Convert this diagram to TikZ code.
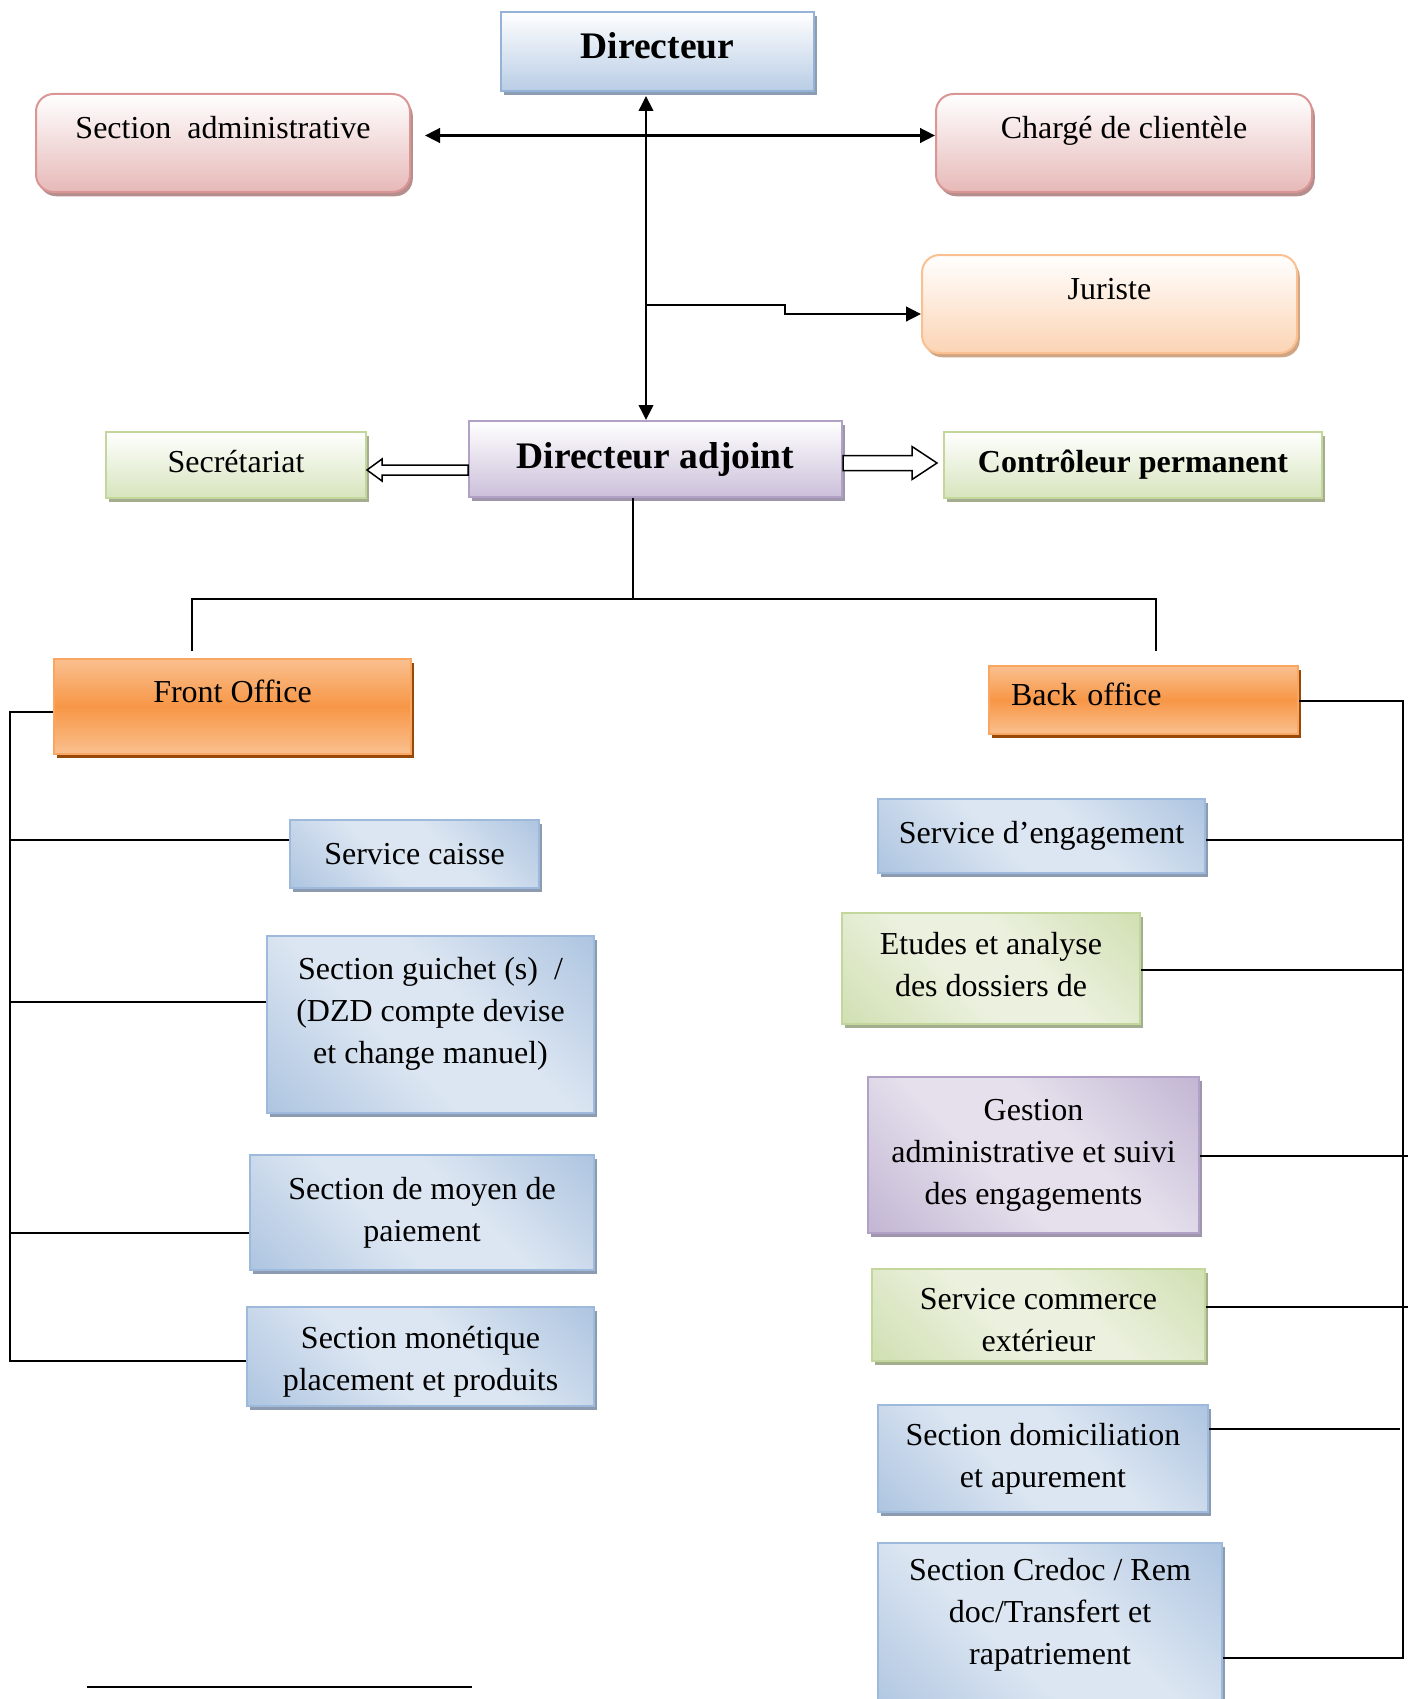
\documentclass[tikz,border=0pt]{standalone}
\usepackage{fontspec}
\setmainfont{Liberation Serif}
\usetikzlibrary{arrows.meta,shadows,calc}

% box palettes: border (B), fill (F), light fill (L), dark fill (D), shadow (S)
\definecolor{dirB}{HTML}{95B3D7}
\definecolor{dirF}{HTML}{B9CDE5}
\definecolor{dirS}{HTML}{8C9CB3}
\definecolor{redB}{HTML}{D99694}
\definecolor{redF}{HTML}{E6B9B8}
\definecolor{redS}{HTML}{B58E8D}
\definecolor{orgB}{HTML}{FAC090}
\definecolor{orgF}{HTML}{FBD4B4}
\definecolor{orgS}{HTML}{CFA583}
\definecolor{purB}{HTML}{B2A1C7}
\definecolor{purF}{HTML}{CCC0DA}
\definecolor{purD}{HTML}{B09FC6}
\definecolor{purL}{HTML}{E5E0EC}
\definecolor{purS}{HTML}{A096AC}
\definecolor{grnB}{HTML}{C3D69B}
\definecolor{grnF}{HTML}{D7E4BD}
\definecolor{grnD}{HTML}{C3D69B}
\definecolor{grnL}{HTML}{EBF1DE}
\definecolor{grnS}{HTML}{A4AE8E}
\definecolor{ofM}{HTML}{F79646}
\definecolor{ofL}{HTML}{FAC08F}
\definecolor{ofS}{HTML}{984807}
\definecolor{bluB}{HTML}{9DB9DB}
\definecolor{bluD}{HTML}{95B3D7}
\definecolor{bluL}{HTML}{DCE6F2}
\definecolor{bluS}{HTML}{8D9BB0}

% diagonal fills: dark in two opposite corners, light band between
\pgfdeclarehorizontalshading{bluediag}{100bp}{color(0bp)=(bluD); color(42bp)=(bluL); color(58bp)=(bluL); color(100bp)=(bluD)}
\pgfdeclarehorizontalshading{greendiag}{100bp}{color(0bp)=(grnD); color(42bp)=(grnL); color(58bp)=(grnL); color(100bp)=(grnD)}
\pgfdeclarehorizontalshading{purplediag}{100bp}{color(0bp)=(purD); color(42bp)=(purL); color(58bp)=(purL); color(100bp)=(purD)}

\newcommand\bodyfont{\fontsize{12.8}{16.8}\selectfont}
\newcommand\headfont{\fontsize{15}{18}\selectfont\bfseries}

\begin{document}
\begin{tikzpicture}[x=0.4pt,y=-0.4pt,
  >={Triangle[length=6pt,width=5.8pt]},
  box/.style={draw, line width=0.8pt, inner sep=2pt, align=center, font=\bodyfont},
  sz/.style 2 args={minimum width=#1*0.4pt, minimum height=#2*0.4pt},
  drop/.style={general shadow={fill=#1, draw=none, shadow xshift=1.1pt, shadow yshift=-1.7pt}},
  vshade/.style n args={3}{box, draw=#1, top color=white, bottom color=#2, drop=#3},
  diag/.style n args={3}{box, draw=#1, shade, shading=#2, shading angle=45, drop=#3},
  bluebox/.style={diag={bluB}{bluediag}{bluS}},
  greenbox/.style={diag={grnB}{greendiag}{grnS}},
  purplebox/.style={diag={purB}{purplediag}{purS}},
  officebox/.style={box, draw=ofM!85!white, top color=ofL, bottom color=ofL,
                    middle color=ofM, drop=ofS},
  txtlbl/.style={align=center, font=\bodyfont},
  conn/.style={line width=0.8pt},
  hollow/.style={draw, fill=white, line width=0.6pt}
]
\useasboundingbox (0,0) rectangle (1413,1699);

% ---- management level
\node[vshade={dirB}{dirF}{dirS}, sz={313}{79}, font=\headfont,
      text height=10pt, text depth=4pt] (dir) at (657.5,51.5) {Directeur};
\node[vshade={redB}{redF}{redS}, rounded corners=7pt, sz={374}{98},
      text height=9pt, text depth=12.2pt] (sa) at (223,143) {Section\ \ administrative};
\node[vshade={redB}{redF}{redS}, rounded corners=7pt, sz={376}{98},
      text height=9pt, text depth=12.2pt] (cc) at (1124,143) {Chargé de clientèle};
\node[vshade={orgB}{orgF}{orgS}, rounded corners=7pt, sz={375}{98},
      text height=9pt, text depth=13pt] (jur) at (1109.5,304) {Juriste};
\node[vshade={purB}{purF}{purS}, sz={373}{76}, font=\headfont] (da) at (655.5,459) {Directeur adjoint};
\node[vshade={grnB}{grnF}{grnS}, sz={260}{66},
      text height=9.5pt, text depth=3.9pt] (sec) at (236,465) {Secrétariat};
\node[vshade={grnB}{grnF}{grnS}, sz={378}{66}, font=\bodyfont\bfseries] (ctl) at (1133,465) {Contrôleur permanent};

% ---- front / back office
\node[officebox, sz={357}{95}, text height=9pt, text depth=12.6pt] (fo) at (232.5,706.5) {Front Office};
\node[officebox, minimum height=68*0.4pt, inner xsep=8.8pt, text width=106pt, align=left,
      text height=9pt, text depth=5pt] (bo) at (1143.5,700) {Back office};

% ---- front office services
\node[bluebox, sz={249}{68}] (sc) at (414.5,854) {Service caisse};
\node[bluebox, sz={327}{177},
      label={[txtlbl, name=sg-text, yshift=4.3pt]center:Section guichet (s)\ \ /\\(DZD compte devise\\et change manuel)}]
      (sg) at (430.5,1024.5) {};
\node[bluebox, sz={344}{115}] (sm) at (422,1212.5) {Section de moyen de\\paiement};
\node[bluebox, sz={347}{99},
      label={[txtlbl, name=smo-text, yshift=-2pt]center:Section monétique\\placement et produits}]
      (smo) at (420.5,1356.5) {};

% ---- back office services
\node[bluebox, sz={327}{74}] (se) at (1041.5,836) {Service d’engagement};
\node[greenbox, sz={298}{111},
      label={[txtlbl, name=ea-text, yshift=1.5pt]center:Etudes et analyse\\des dossiers de}]
      (ea) at (991,968.5) {};
\node[purplebox, sz={331}{156}] (ga) at (1033.5,1155) {Gestion\\administrative et suivi\\des engagements};
\node[greenbox, sz={333}{92},
      label={[txtlbl, name=sce-text, yshift=-2pt]center:Service commerce\\extérieur}]
      (sce) at (1038.5,1315) {};
\node[bluebox, sz={330}{107}] (sd) at (1043,1458.5) {Section domiciliation\\et apurement};
\node[bluebox, sz={344}{177},
      label={[txtlbl, name=scr-text, yshift=6.8pt]center:Section Credoc / Rem\\doc/Transfert et\\rapatriement}]
      (scr) at (1050,1631.5) {};

% ---- links between director, staff and deputy
\coordinate (vx) at (646,0);
\coordinate (hy) at (0,135.5);
\coordinate (jstep) at (785,305);
\coordinate (jin) at (785,314);
\draw[conn, <->] ($(dir.south -| vx)+(0,4)$) -- (da.north -| vx);
\draw[line width=1.1pt, <->] ($(sa.east |- hy)+(14,0)$) -- (cc.west |- hy);
\draw[line width=1.1pt, ->] (vx |- jstep) -- (jstep) -- (jin) -- (jur.west |- jin);

% hollow block arrows from the deputy
\draw[hollow] let \p1=(da.west), \p2=($(sec.east)+(0,5)$) in
  (\x1,\y2+2pt) -- (\x2+6pt,\y2+2pt) -- (\x2+6pt,\y2+4.4pt) -- (\p2)
  -- (\x2+6pt,\y2-4.4pt) -- (\x2+6pt,\y2-2pt) -- (\x1,\y2-2pt) -- cycle;
\draw[hollow] let \p1=(da.east), \p2=($(ctl.west)+(-6,-2)$) in
  (\x1,\y2+3pt) -- (\x2-10pt,\y2+3pt) -- (\x2-10pt,\y2+6.6pt) -- (\p2)
  -- (\x2-10pt,\y2-6.6pt) -- (\x2-10pt,\y2-3pt) -- (\x1,\y2-3pt) -- cycle;

% ---- split towards front and back office
\coordinate (trunk) at (633,599);
\coordinate (foend) at (192,651);
\coordinate (boend) at (1156,651);
\draw[conn] (da.south -| trunk) -- (trunk);
\draw[line width=1pt] (foend) -- (foend |- trunk) -- (boend |- trunk) -- (boend);

% ---- front office bus
\coordinate (lb0) at (10,712);
\coordinate (lb1) at (10,840);
\coordinate (lb2) at (10,1002);
\coordinate (lb3) at (10,1233);
\coordinate (lb4) at (10,1361);
\draw[conn] (fo.west |- lb0) -- (lb0) -- (lb4) -- (smo.west |- lb4);
\draw[conn] (lb1) -- (sc.west |- lb1);
\draw[conn] (lb2) -- (sg.west |- lb2);
\draw[conn] (lb3) -- (sm.west |- lb3);

% ---- back office bus
\coordinate (rb0) at (1403,701);
\coordinate (rb1) at (1403,840);
\coordinate (rb2) at (1403,970);
\coordinate (rb3) at (1403,1156);
\coordinate (rb4) at (1403,1307);
\coordinate (rb5) at (1403,1429);
\coordinate (rb6) at (1403,1658);
\draw[conn] (bo.east |- rb0) -- (rb0) -- (rb6) -- (scr.east |- rb6);
\draw[conn] (se.east |- rb1) -- (rb1);
\draw[conn] (ea.east |- rb2) -- (rb2);
\draw[conn] (ga.east |- rb3) -- ($(rb3)+(5,0)$);
\draw[conn] (sce.east |- rb4) -- ($(rb4)+(5,0)$);
\draw[conn] (sd.east |- rb5) -- ($(rb5)+(-3,0)$);

% ---- footnote rule
\coordinate (fn1) at (87,1687);
\coordinate (fn2) at (472,1687);
\draw[line width=1pt] (fn1) -- (fn2);
\end{tikzpicture}
\end{document}
